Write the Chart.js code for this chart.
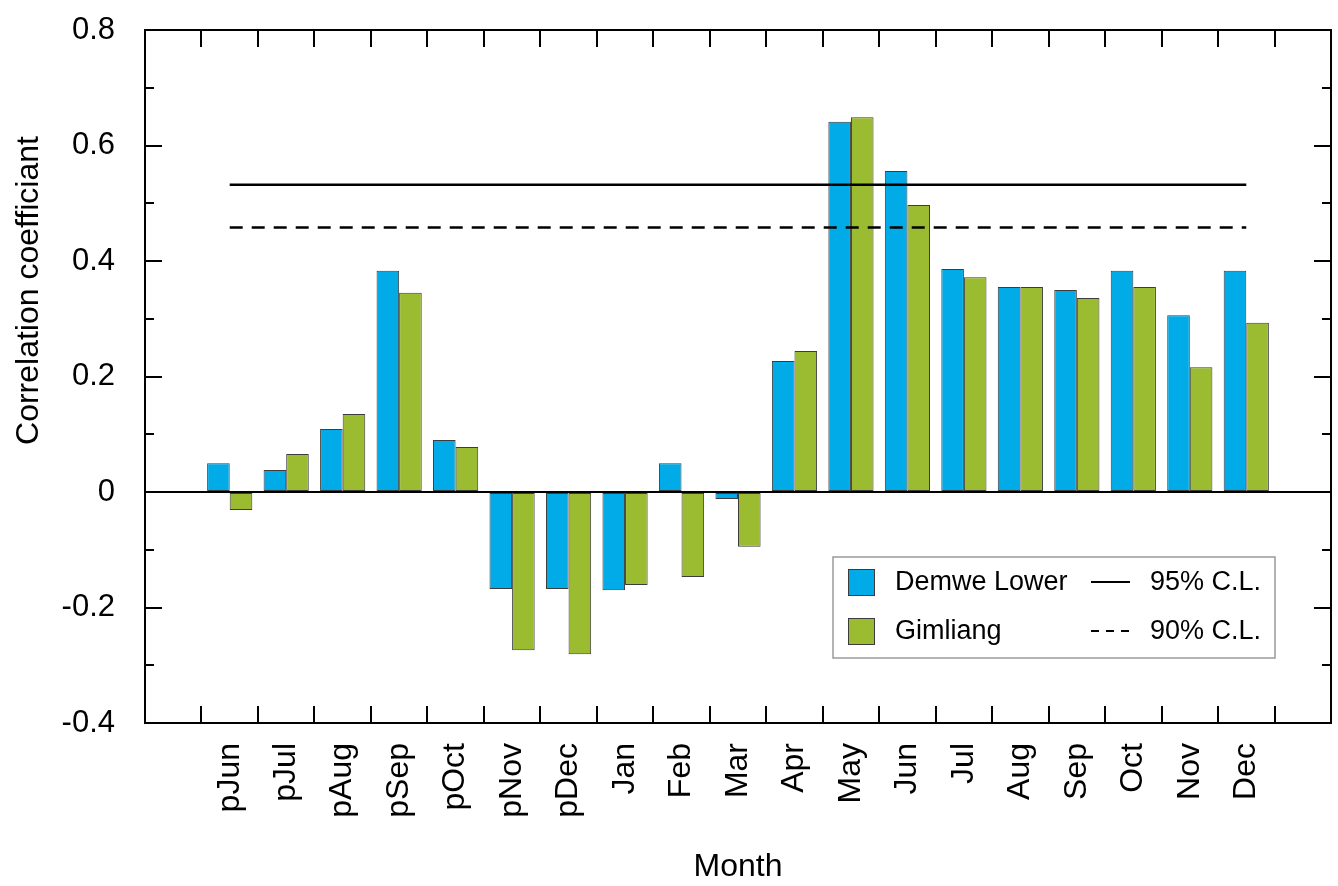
<!DOCTYPE html>
<html>
<head>
<meta charset="utf-8">
<title>Correlation coefficient by month</title>
<script src="https://cdn.jsdelivr.net/npm/chart.js@4.4.0/dist/chart.umd.min.js"></script>
<style>
    html, body { margin: 0; padding: 0; background: #fff; }
    #wrap { width: 1338px; height: 886px; }
</style>
</head>
<body>
<div id="wrap"><canvas id="corrChart"></canvas></div>
<script>
// data //
var months = ['pJun', 'pJul', 'pAug', 'pSep', 'pOct', 'pNov', 'pDec', 'Jan', 'Feb', 'Mar',
              'Apr', 'May', 'Jun', 'Jul', 'Aug', 'Sep', 'Oct', 'Nov', 'Dec'];
var demweLower = [0.050, 0.038, 0.109, 0.383, 0.090, -0.168, -0.168, -0.170, 0.050, -0.012,
                  0.227, 0.641, 0.556, 0.386, 0.355, 0.350, 0.383, 0.306, 0.383];
var gimliang = [-0.031, 0.066, 0.135, 0.345, 0.078, -0.274, -0.281, -0.161, -0.147, -0.095,
                0.244, 0.649, 0.497, 0.372, 0.355, 0.336, 0.355, 0.216, 0.293];
var yTicks = [-0.4, -0.2, 0, 0.2, 0.4, 0.6, 0.8];
var cl95 = 0.532;
var cl90 = 0.458;
var yTitle = 'Correlation coefficiant';

// one empty slot on each side of the months
var labels = [''].concat(months, ['']);
function pad(arr) { return [null].concat(arr, [null]); }

var FONT = "'Liberation Sans', Arial, Helvetica, sans-serif";
Chart.defaults.font.family = FONT;
Chart.defaults.color = '#000';

// inward ticks + frame + y title //
var framePlugin = {
    id: 'frameTicks',
    afterDatasetsDraw: function(chart) {
        var ctx = chart.ctx, a = chart.chartArea;
        var x = chart.scales.x, y = chart.scales.y;
        ctx.save();
        ctx.strokeStyle = '#000';
        ctx.lineWidth = 2;
        ctx.beginPath();
        for (var i = 1; i < labels.length; i++) {
            var px = Math.round((x.getPixelForValue(i - 1) + x.getPixelForValue(i)) / 2);
            ctx.moveTo(px, a.bottom); ctx.lineTo(px, a.bottom - 17);
            ctx.moveTo(px, a.top); ctx.lineTo(px, a.top + 17);
        }
        for (var k = 0; k < yTicks.length; k++) {
            var py = Math.round(y.getPixelForValue(yTicks[k]));
            ctx.moveTo(a.left, py); ctx.lineTo(a.left + 17, py);
            ctx.moveTo(a.right, py); ctx.lineTo(a.right - 17, py);
            if (k < yTicks.length - 1) {
                var pm = Math.round(y.getPixelForValue((yTicks[k] + yTicks[k + 1]) / 2));
                ctx.moveTo(a.left, pm); ctx.lineTo(a.left + 9, pm);
                ctx.moveTo(a.right, pm); ctx.lineTo(a.right - 9, pm);
            }
        }
        ctx.stroke();
        ctx.strokeRect(a.left, a.top, a.right - a.left, a.bottom - a.top);

        // y title, sits a bit above the middle of the axis
        ctx.translate(29, (a.top + a.bottom) / 2 - 86);
        ctx.rotate(-Math.PI / 2);
        ctx.font = '32px ' + FONT;
        ctx.fillStyle = '#000';
        ctx.textAlign = 'center';
        ctx.textBaseline = 'middle';
        ctx.fillText(yTitle, 0, 0);
        ctx.restore();
    }
};

// boxed legend, two columns //
var legendPlugin = {
    id: 'boxLegend',
    afterDraw: function(chart) {
        var ctx = chart.ctx, a = chart.chartArea;
        var ds = chart.data.datasets;
        var w = 442, h = 101;
        var bx = a.right - 56 - w, by = a.bottom - 65 - h;
        ctx.save();
        ctx.fillStyle = '#fff';
        ctx.fillRect(bx, by, w, h);
        ctx.strokeStyle = '#9a9a9a';
        ctx.lineWidth = 1.5;
        ctx.strokeRect(bx, by, w, h);
        ctx.font = '27px ' + FONT;
        ctx.textBaseline = 'middle';
        ctx.textAlign = 'left';
        var rows = [[ds[0], ds[2]], [ds[1], ds[3]]];
        for (var r = 0; r < rows.length; r++) {
            var cy = by + 25 + r * 49;
            var bar = rows[r][0], line = rows[r][1];
            ctx.fillStyle = bar.backgroundColor;
            ctx.fillRect(bx + 15, cy - 13, 27, 27);
            ctx.strokeStyle = bar.borderColor;
            ctx.lineWidth = 1;
            ctx.strokeRect(bx + 15.5, cy - 12.5, 26, 26);
            ctx.fillStyle = '#000';
            ctx.fillText(bar.label, bx + 62, cy + 1);
            ctx.strokeStyle = line.borderColor;
            ctx.lineWidth = 2;
            ctx.setLineDash(line.borderDash ? [8, 7] : []);
            ctx.beginPath();
            ctx.moveTo(bx + 258, cy); ctx.lineTo(bx + 297, cy);
            ctx.stroke();
            ctx.setLineDash([]);
            ctx.fillText(line.label, bx + 317, cy + 1);
        }
        ctx.restore();
    }
};

var ctx = document.getElementById('corrChart').getContext('2d');
var corrChart = new Chart(ctx, {
    type: 'bar',
    data: {
        labels: labels,
        datasets: [
            {
                label: 'Demwe Lower',
                data: pad(demweLower),
                backgroundColor: '#00abe7',
                borderColor: '#3c3c3c',
                borderWidth: 1,
                borderSkipped: false,
                categoryPercentage: 0.8,
                barPercentage: 1.0,
                order: 2,
            },
            {
                label: 'Gimliang',
                data: pad(gimliang),
                backgroundColor: '#9bbb30',
                borderColor: '#3c3c3c',
                borderWidth: 1,
                borderSkipped: false,
                categoryPercentage: 0.8,
                barPercentage: 1.0,
                order: 2,
            },
            {
                type: 'line',
                label: '95% C.L.',
                data: [{ x: months[0], y: cl95 }, { x: months[months.length - 1], y: cl95 }],
                borderColor: '#000',
                borderWidth: 2.5,
                pointRadius: 0,
                order: 1,
            },
            {
                type: 'line',
                label: '90% C.L.',
                data: [{ x: months[0], y: cl90 }, { x: months[months.length - 1], y: cl90 }],
                borderColor: '#000',
                borderWidth: 2.5,
                borderDash: [13, 9],
                pointRadius: 0,
                order: 1,
            },
        ],
    },

    options: {
        responsive: true,
        maintainAspectRatio: false,
        animation: false,
        layout: {
            padding: { left: 0, right: 7, top: 30, bottom: 0 }
        },
        scales: {
            x: {
                offset: true,
                grid: {
                    display: false,
                    drawTicks: false,
                },
                border: { display: false },
                ticks: {
                    autoSkip: false,
                    maxRotation: 90,
                    minRotation: 90,
                    padding: 20,
                    color: '#000',
                    font: { size: 32 },
                },
                title: {
                    display: true,
                    text: 'Month',
                    color: '#000',
                    font: { size: 32 },
                    padding: { top: 0, bottom: 0 },
                },
                afterFit: function(scale) {
                    scale.height = 163;
                    scale.paddingLeft = 0;
                    scale.paddingRight = 0;
                },
            },
            y: {
                min: -0.4,
                max: 0.8,
                afterBuildTicks: function(axis) {
                    axis.ticks = yTicks.map(function(v) { return { value: v }; });
                },
                grid: {
                    drawTicks: false,
                    lineWidth: 2,
                    color: function(c) { return (c.tick && c.tick.value === 0) ? '#000' : 'rgba(0,0,0,0)'; },
                },
                border: { display: false },
                ticks: {
                    padding: 30,
                    color: '#000',
                    font: { size: 31 },
                    callback: function(v) { return v === 0 ? '0' : v.toFixed(1); },
                },
                title: { display: false },
                afterFit: function(scale) {
                    scale.width = 145;
                    scale.paddingTop = 0;
                    scale.paddingBottom = 0;
                },
            },
        },
        plugins: {
            legend: { display: false },
            tooltip: { enabled: false },
        }
    },
    plugins: [framePlugin, legendPlugin]
});
</script>
</body>
</html>
